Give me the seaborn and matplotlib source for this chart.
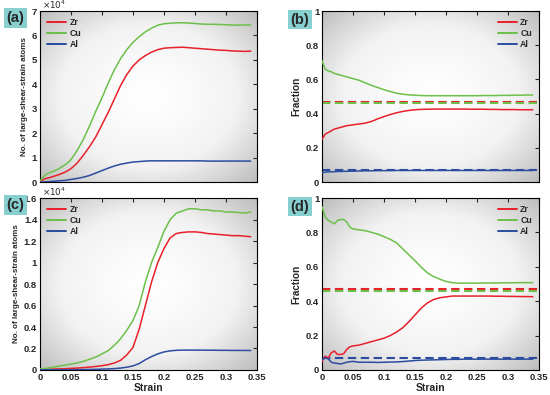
import numpy as np
import pandas as pd
import matplotlib
matplotlib.use("Agg")
import matplotlib.pyplot as plt
import seaborn as sns
from matplotlib.colors import LinearSegmentedColormap
from matplotlib.ticker import FuncFormatter

sns.set_theme(style="white")
plt.rcParams['font.family'] = ['Liberation Sans', 'DejaVu Sans']

# strain grid shared by all panels
strain = [0, 0.005, 0.01, 0.015, 0.02, 0.025, 0.03, 0.035, 0.04, 0.045, 0.05,
          0.06, 0.07, 0.08, 0.09, 0.10, 0.11, 0.12, 0.13, 0.14, 0.15, 0.16, 0.17,
          0.18, 0.19, 0.20, 0.21, 0.22, 0.23, 0.24, 0.25, 0.26, 0.27, 0.28, 0.29,
          0.30, 0.31, 0.32, 0.33, 0.34]

# (a) number of large-shear-strain atoms, units of 1e4
zr_a = [0.02, 0.1, 0.15, 0.18, 0.22, 0.26, 0.3, 0.35, 0.4, 0.47, 0.55,
        0.78, 1.1, 1.45, 1.85, 2.35, 2.85, 3.4, 3.95, 4.4, 4.75, 5.0, 5.18,
        5.32, 5.42, 5.48, 5.5, 5.51, 5.52, 5.5, 5.48, 5.46, 5.44, 5.42, 5.4,
        5.39, 5.37, 5.36, 5.35, 5.36]
cu_a = [0.05, 0.2, 0.32, 0.38, 0.43, 0.48, 0.54, 0.62, 0.7, 0.8, 0.92,
        1.3, 1.75, 2.3, 2.9, 3.45, 4.05, 4.6, 5.05, 5.42, 5.72, 5.95, 6.15,
        6.3, 6.42, 6.48, 6.5, 6.52, 6.52, 6.51, 6.49, 6.47, 6.46, 6.46, 6.45,
        6.44, 6.43, 6.42, 6.43, 6.43]
al_a = [0, 0.005, 0.01, 0.02, 0.03, 0.04, 0.05, 0.06, 0.07, 0.09, 0.11,
        0.15, 0.2, 0.27, 0.37, 0.47, 0.57, 0.66, 0.73, 0.78, 0.82, 0.84, 0.86,
        0.87, 0.87, 0.87, 0.87, 0.87, 0.87, 0.87, 0.87, 0.87, 0.86, 0.86, 0.86,
        0.86, 0.86, 0.86, 0.86, 0.86]

# (b) fraction
zr_b = [0.25, 0.28, 0.29, 0.30, 0.31, 0.315, 0.32, 0.325, 0.33, 0.332, 0.335,
        0.34, 0.345, 0.355, 0.37, 0.383, 0.395, 0.405, 0.413, 0.419, 0.423, 0.425, 0.426,
        0.427, 0.427, 0.427, 0.427, 0.427, 0.427, 0.426, 0.426, 0.426, 0.425, 0.425, 0.424,
        0.424, 0.424, 0.423, 0.423, 0.423]
cu_b = [0.71, 0.66, 0.65, 0.645, 0.635, 0.63, 0.625, 0.62, 0.615, 0.61, 0.605,
        0.595, 0.58, 0.565, 0.553, 0.54, 0.53, 0.52, 0.514, 0.51, 0.508, 0.506, 0.505,
        0.505, 0.505, 0.505, 0.505, 0.505, 0.505, 0.505, 0.505, 0.506, 0.506, 0.506, 0.507,
        0.507, 0.508, 0.508, 0.509, 0.509]
al_b = [0.055, 0.058, 0.06, 0.06, 0.061, 0.062, 0.062, 0.063, 0.063, 0.064, 0.064,
        0.065, 0.066, 0.066, 0.067, 0.067, 0.067, 0.068, 0.068, 0.068, 0.068, 0.068, 0.068,
        0.068, 0.068, 0.068, 0.068, 0.068, 0.068, 0.068, 0.068, 0.068, 0.068, 0.068, 0.068,
        0.068, 0.068, 0.068, 0.068, 0.068]

# (c) number of large-shear-strain atoms, units of 1e4
zr_c = [0.005, 0.005, 0.006, 0.007, 0.008, 0.009, 0.01, 0.011, 0.012, 0.013, 0.015,
        0.018, 0.022, 0.027, 0.033, 0.04, 0.05, 0.065, 0.09, 0.14, 0.21, 0.38, 0.6,
        0.82, 1.0, 1.13, 1.23, 1.27, 1.28, 1.285, 1.285, 1.28, 1.27, 1.265, 1.26,
        1.255, 1.25, 1.25, 1.245, 1.24]
cu_c = [0.01, 0.012, 0.015, 0.02, 0.025, 0.03, 0.035, 0.04, 0.045, 0.05, 0.055,
        0.065, 0.08, 0.1, 0.12, 0.15, 0.18, 0.23, 0.29, 0.37, 0.46, 0.6, 0.82,
        1.0, 1.14, 1.29, 1.4, 1.46, 1.48, 1.5, 1.5, 1.49, 1.49, 1.48, 1.48,
        1.47, 1.47, 1.465, 1.46, 1.47]
al_c = [0.002, 0.002, 0.002, 0.002, 0.002, 0.002, 0.002, 0.002, 0.002, 0.002, 0.002,
        0.003, 0.004, 0.005, 0.006, 0.008, 0.01, 0.013, 0.018, 0.026, 0.038, 0.06, 0.095,
        0.125, 0.15, 0.168, 0.178, 0.183, 0.185, 0.185, 0.185, 0.185, 0.184, 0.184, 0.183,
        0.183, 0.182, 0.182, 0.182, 0.181]

# (d) fraction
zr_d = [0.05, 0.08, 0.07, 0.1, 0.11, 0.09, 0.09, 0.095, 0.12, 0.135, 0.14,
        0.145, 0.155, 0.165, 0.175, 0.185, 0.2, 0.22, 0.245, 0.28, 0.32, 0.36, 0.39,
        0.41, 0.42, 0.425, 0.43, 0.43, 0.43, 0.43, 0.43, 0.43, 0.43, 0.429, 0.429,
        0.428, 0.428, 0.427, 0.427, 0.426]
cu_d = [0.95, 0.89, 0.87, 0.86, 0.85, 0.87, 0.875, 0.875, 0.86, 0.83, 0.82,
        0.815, 0.81, 0.8, 0.79, 0.775, 0.76, 0.74, 0.705, 0.67, 0.635, 0.598, 0.565,
        0.543, 0.528, 0.515, 0.508, 0.505, 0.505, 0.505, 0.505, 0.506, 0.506, 0.506, 0.507,
        0.507, 0.507, 0.508, 0.508, 0.508]
al_d = [0.06, 0.07, 0.065, 0.045, 0.04, 0.038, 0.035, 0.04, 0.045, 0.048, 0.05,
        0.045, 0.045, 0.045, 0.044, 0.045, 0.046, 0.047, 0.049, 0.052, 0.055, 0.057, 0.058,
        0.059, 0.06, 0.061, 0.062, 0.062, 0.063, 0.063, 0.063, 0.063, 0.063, 0.063, 0.063,
        0.063, 0.063, 0.063, 0.063, 0.063]

# nominal composition (dashed lines)
elements = ['Zr', 'Cu', 'Al']
nominal = [0.47, 0.46, 0.07]
colors = {'Zr': '#e8202a', 'Cu': '#6cc04a', 'Al': '#2b4c9f'}

bg_cmap = LinearSegmentedColormap.from_list('bg', ['#ffffff', '#f2f2f2', '#bdbdbd'])


def make_df(zr, cu, al):
    rows = []
    for el, vals in zip(elements, [zr, cu, al]):
        for s, v in zip(strain, vals):
            rows.append({'strain': s, 'value': v, 'element': el})
    return pd.DataFrame(rows)


def fmt(x, pos):
    return '%g' % round(x, 3)


def draw_panel(ax, df, ylim, yticks, label, legend_loc, ylabel, show_xlabels, dashed):
    # radial grey background
    yy, xx = np.mgrid[0:1:200j, 0:1:200j]
    r = np.sqrt((xx - 0.5) ** 2 + (yy - 0.5) ** 2) / 0.7071
    ax.imshow(r ** 1.3, extent=(0, 1, 0, 1), transform=ax.transAxes,
              cmap=bg_cmap, vmin=0, vmax=1, aspect='auto', zorder=0)

    sns.lineplot(data=df, x='strain', y='value', hue='element', palette=colors,
                 hue_order=elements, linewidth=1.1, ax=ax, zorder=3)
    if dashed:
        for el, v in zip(elements, nominal):
            ax.axhline(v, color=colors[el], linestyle=(0, (4, 2.2)), linewidth=1.5, zorder=2)

    ax.set_xlim(0, 0.35)
    ax.set_ylim(*ylim)
    ax.set_xticks(np.arange(0, 0.351, 0.05))
    ax.set_yticks(yticks)
    ax.xaxis.set_major_formatter(FuncFormatter(fmt))
    ax.yaxis.set_major_formatter(FuncFormatter(fmt))
    ax.tick_params(direction='in', top=True, right=True, length=3, width=0.8,
                   labelsize=6.8, pad=2)
    for t in ax.get_xticklabels() + ax.get_yticklabels():
        t.set_fontweight('bold')
    if not show_xlabels:
        ax.set_xticklabels([])
        ax.set_xlabel('')
    else:
        ax.set_xlabel('Strain', fontsize=7.5, fontweight='bold', labelpad=1)
    ylsize = 5.8 if ylabel.startswith('No.') else 7.2
    ax.set_ylabel(ylabel, fontsize=ylsize, fontweight='bold', labelpad=3)
    for sp in ax.spines.values():
        sp.set_color('black')
        sp.set_linewidth(0.8)

    leg = ax.legend(loc=legend_loc, frameon=False, fontsize=6.3, handlelength=2.2,
                    handletextpad=0.4, labelspacing=0.25, borderaxespad=0.4)
    for t in leg.get_texts():
        t.set_fontweight('bold')
    for h in leg.get_lines():
        h.set_linewidth(1.4)

    ax.text(label[1], label[2], label[0], transform=ax.transAxes, fontsize=10.5,
            fontweight='bold', ha='left', va='top',
            bbox=dict(boxstyle='square,pad=0.18', facecolor='#88d0d0', edgecolor='none'))


fig = plt.figure(figsize=(5.5, 3.95), dpi=100)
ax_a = fig.add_axes([0.0727, 0.539, 0.3945, 0.433])
ax_b = fig.add_axes([0.5855, 0.539, 0.3945, 0.433])
ax_c = fig.add_axes([0.0727, 0.0633, 0.3945, 0.4354])
ax_d = fig.add_axes([0.5855, 0.0633, 0.3945, 0.4354])

ylab_n = 'No. of large-shear-strain atoms'
draw_panel(ax_a, make_df(zr_a, cu_a, al_a), (0, 7), np.arange(0, 7.1, 1), ('(a)', -0.155, 1.0),
           'upper left', ylab_n, False, False)
draw_panel(ax_b, make_df(zr_b, cu_b, al_b), (0, 1), np.arange(0, 1.01, 0.2), ('(b)', -0.145, 0.99),
           'upper right', 'Fraction', False, True)
draw_panel(ax_c, make_df(zr_c, cu_c, al_c), (0, 1.6), np.arange(0, 1.61, 0.2), ('(c)', -0.155, 1.0),
           'upper left', ylab_n, True, False)
draw_panel(ax_d, make_df(zr_d, cu_d, al_d), (0, 1), np.arange(0, 1.01, 0.2), ('(d)', -0.145, 0.99),
           'upper right', 'Fraction', True, True)

for ax in (ax_a, ax_c):
    ax.text(0.01, 1.0, r'$\times10^4$', transform=ax.transAxes, fontsize=6.3,
            ha='left', va='bottom')

fig.savefig('out.png', dpi=100)
